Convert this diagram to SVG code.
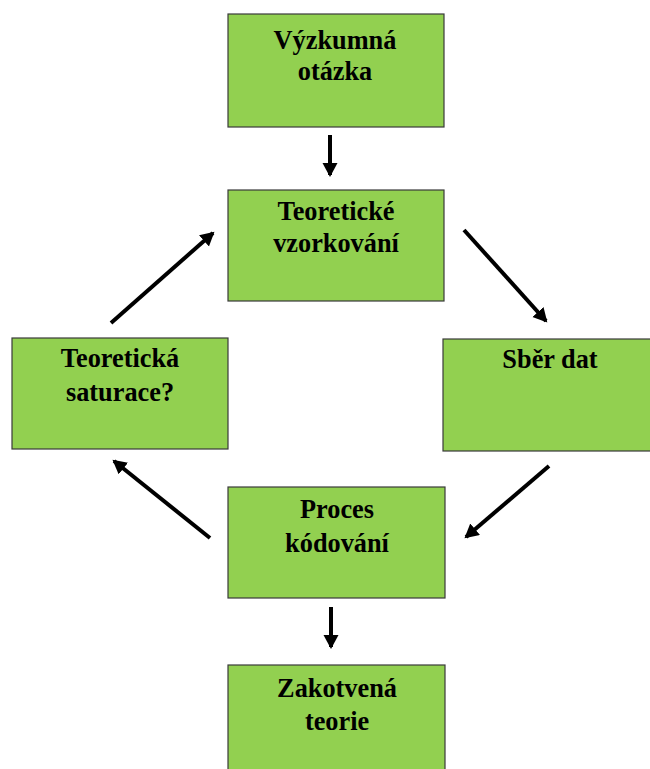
<svg xmlns="http://www.w3.org/2000/svg" width="650" height="769" viewBox="0 0 650 769">
<style>
.box{fill:#92D050;stroke:#3a3a3a;stroke-width:1.2}
.t{font-family:"Liberation Serif","Times New Roman",serif;font-weight:bold;font-size:28px;fill:#000;text-anchor:middle}
.c{stroke:#000;stroke-width:4;fill:none;marker-end:url(#ah)}
</style>
<defs>
<marker id="ah" markerUnits="userSpaceOnUse" markerWidth="16" markerHeight="16" refX="12" refY="7.5" orient="auto">
<path d="M0,0 L14,7.5 L0,15 z" fill="#000"/>
</marker>
</defs>
<rect width="650" height="769" fill="#fff"/>
<g id="vyzkumna">
<rect class="box" x="228" y="14" width="216" height="113"/>
<g transform="translate(335,0) scale(0.94,1)"><text class="t" x="0" y="49">Výzkumná</text><text class="t" x="0" y="80">otázka</text></g>
</g>
<g id="vzorkovani">
<rect class="box" x="228" y="190" width="216" height="111"/>
<g transform="translate(336,0) scale(0.94,1)"><text class="t" x="0" y="220">Teoretické</text><text class="t" x="0" y="252">vzorkování</text></g>
</g>
<g id="saturace">
<rect class="box" x="12" y="338" width="216" height="111"/>
<g transform="translate(120,0) scale(0.94,1)"><text class="t" x="0" y="367">Teoretická</text><text class="t" x="0" y="401">saturace?</text></g>
</g>
<g id="sber">
<rect class="box" x="443" y="339" width="216" height="112"/>
<g transform="translate(550,0) scale(0.94,1)"><text class="t" x="0" y="368">Sběr dat</text></g>
</g>
<g id="kodovani">
<rect class="box" x="228" y="487" width="217" height="111"/>
<g transform="translate(337,0) scale(0.94,1)"><text class="t" x="0" y="518">Proces</text><text class="t" x="0" y="552">kódování</text></g>
</g>
<g id="zakotvena">
<rect class="box" x="228" y="665" width="217" height="120"/>
<g transform="translate(337,0) scale(0.94,1)"><text class="t" x="0" y="697">Zakotvená</text><text class="t" x="0" y="730">teorie</text></g>
</g>
<g id="connectors">
<line class="c" x1="330" y1="135" x2="330" y2="175"/>
<line class="c" x1="464" y1="230" x2="546" y2="321"/>
<line class="c" x1="549" y1="466" x2="466" y2="537"/>
<line class="c" x1="210" y1="538" x2="114" y2="461"/>
<line class="c" x1="111" y1="323" x2="213" y2="233"/>
<line class="c" x1="331" y1="607" x2="331" y2="647"/>
</g>
</svg>
